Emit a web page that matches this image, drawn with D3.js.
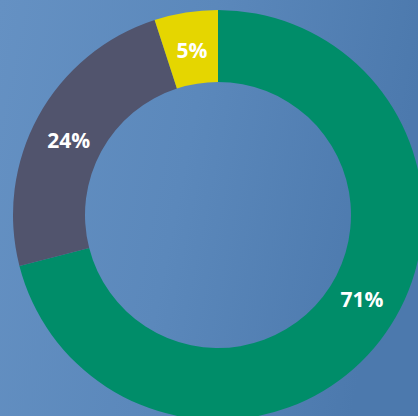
<!DOCTYPE html>
<html>
<head>
<meta charset="utf-8">
<script src="https://cdn.jsdelivr.net/npm/d3@7"></script>
<style>
  html, body { margin: 0; padding: 0; overflow: hidden; }
  svg { display: block; }
</style>
</head>
<body>
<div id="chart"></div>
<script>
// slice data, clockwise from 12 o'clock
const labels = ["71%", "24%", "5%"];
const values = [71, 24, 5];
const colors = ["#008d69", "#51546d", "#e5d600"];

const width = 418;
const height = 416;
const cx = 218, cy = 215;
const outerR = 205, innerR = 133;
const labelR = 167;

const svg = d3.select("#chart")
  .append("svg")
  .attr("width", width)
  .attr("height", height);

// blue background, a bit darker to the right
const grad = svg.append("defs").append("linearGradient")
  .attr("id", "bg")
  .attr("x1", "0").attr("y1", "0")
  .attr("x2", "1").attr("y2", "0.2");
grad.append("stop").attr("offset", "0").attr("stop-color", "#6591c3");
grad.append("stop").attr("offset", "0.5").attr("stop-color", "#5b88bb");
grad.append("stop").attr("offset", "1").attr("stop-color", "#4c79ad");

svg.append("rect")
  .attr("width", width)
  .attr("height", height)
  .attr("fill", "url(#bg)");

const pie = d3.pie().sort(null).value(d => d);
const arcs = pie(values);

const arc = d3.arc().innerRadius(innerR).outerRadius(outerR);

const g = svg.append("g").attr("transform", `translate(${cx},${cy})`);

g.selectAll("path")
  .data(arcs)
  .join("path")
  .attr("d", arc)
  .attr("fill", (d, i) => colors[i]);

// labels sit in the ring, the big slice's label pulled a bit back
// toward the start of the slice (as in the original)
const nudge = [-0.127, -0.038, 0];
function labelPos(d, i) {
  const a = (d.startAngle + d.endAngle) / 2 + nudge[i];
  return [labelR * Math.sin(a), -labelR * Math.cos(a)];
}

g.selectAll("text")
  .data(arcs)
  .join("text")
  .attr("transform", (d, i) => `translate(${labelPos(d, i)})`)
  .attr("text-anchor", "middle")
  .attr("dy", "0.36em")
  .attr("fill", "#fff")
  .style("font-family", "'Open Sans', sans-serif")
  .style("font-weight", "700")
  .style("font-size", "21px")
  .text((d, i) => labels[i]);
</script>
</body>
</html>
